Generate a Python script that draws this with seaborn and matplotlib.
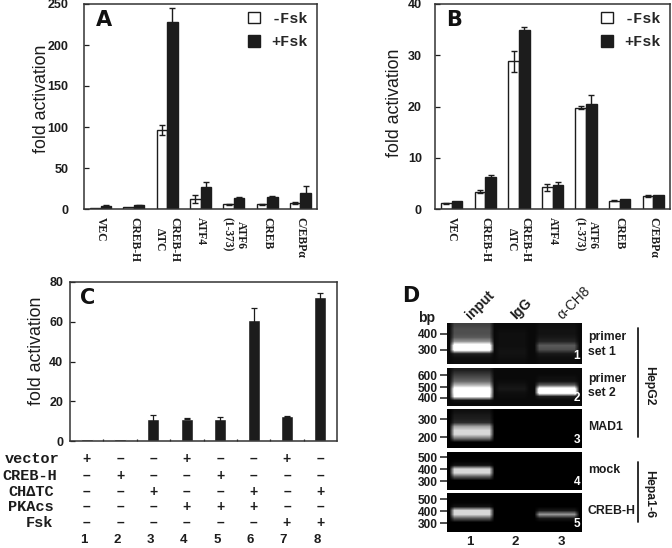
import numpy as np
import pandas as pd
import seaborn as sns
from matplotlib import pyplot as plt
from matplotlib import transforms

W, H = 672, 548
DARK = "#1c1c1c"
SANS = "Liberation Sans"
SERIF = "Liberation Serif"
MONO = "Liberation Mono"

# panels A and B
CATEGORIES = ["VEC", "CREB-H", "CREB-H\nΔTC", "ATF4", "ATF6\n(1-373)", "CREB", "C/EBPα"]
A_MINUS = [1.5, 2.5, 96, 12, 5.5, 5.5, 7.5]
A_PLUS = [4, 4.5, 228, 27, 14, 15, 20]
A_MINUS_ERR = [0, 0, 6, 5, 0.5, 0.5, 1]
A_PLUS_ERR = [0.5, 0.5, 17, 6, 0.5, 0.5, 8]
B_MINUS = [1.1, 3.4, 28.8, 4.2, 19.8, 1.6, 2.6]
B_PLUS = [1.6, 6.2, 35, 4.6, 20.5, 2, 2.8]
B_MINUS_ERR = [0.1, 0.3, 2, 0.6, 0.3, 0.1, 0.2]
B_PLUS_ERR = [0, 0.5, 0.6, 0.6, 1.8, 0, 0]

# panel C
LANES = ["1", "2", "3", "4", "5", "6", "7", "8"]
C_VALUES = [0.8, 1, 11, 11.3, 11, 61, 12.5, 72.5]
C_ERR = [0, 0, 2.2, 0.2, 1.3, 6, 0.3, 1.8]
TABLE_NAMES = ["vector", "CREB-H", "CHΔTC", "PKAcs", "Fsk"]
TABLE_SIGNS = ["+--+--+-", "-+--+---", "--+--+-+", "---+++--", "------++"]

# panel D, band intensity per row for lanes input, IgG, α-CH8
GEL_1 = [[.22, .03, .05], [.26, .04, .06], [.26, .05, .06], [.30, .05, .08], [.50, .05, .12],
         [1.0, .05, .30], [1.0, .06, .26], [.10, .06, .08], [.05, .05, .05], [.04, .04, .04]]
GEL_2 = [[.10, .03, .03], [.18, .03, .03], [.26, .03, .05], [.35, .04, .06], [.60, .06, .30],
         [.95, .08, 1.0], [.95, .05, 1.0], [.85, .04, .10], [.06, .03, .03], [.03, .03, .03]]
GEL_3 = [[.05, 0, 0], [.08, 0, 0], [.10, 0, 0], [.15, 0, 0], [.55, 0, 0],
         [.72, 0, 0], [.72, 0, 0], [.40, 0, 0], [0, 0, 0], [0, 0, 0]]
GEL_4 = [[0, 0, 0], [0, 0, 0], [.01, 0, 0], [.06, 0, 0], [.72, 0, 0],
         [.72, 0, 0], [.30, 0, 0], [0, 0, 0], [0, 0, 0], [0, 0, 0]]
GEL_5 = [[0, 0, 0], [0, 0, 0], [.01, 0, 0], [.06, 0, 0], [.72, 0, .08],
         [.72, 0, .50], [.30, 0, .08], [0, 0, 0], [0, 0, 0], [0, 0, 0]]
# which lane each of the 27 image columns belongs to (-1 is empty gel)
LANE_COLUMNS = [-1, 0, 0, 0, 0, 0, 0, 0, 0, -1, 1, 1, 1, 1, 1, 1, -1, -1, 2, 2, 2, 2, 2, 2, 2, 2, -1]

GELS = [
    (GEL_1, 323, 364, [334, 350], ["400", "300"], "1"),
    (GEL_2, 368, 406, [375, 387, 398], ["600", "500", "400"], "2"),
    (GEL_3, 409, 448, [419, 437], ["300", "200"], "3"),
    (GEL_4, 452, 490, [457, 469, 481], ["500", "400", "300"], "4"),
    (GEL_5, 493, 532, [499, 511, 523], ["500", "400", "300"], "5"),
]
GEL_LABELS = [("primer", 337), ("set 1", 352), ("primer", 379), ("set 2", 393),
              ("MAD1", 427), ("mock", 470), ("CREB-H", 511)]


def px_axes(fig, left, top, right, bottom):
    return fig.add_axes([left / W, 1 - bottom / H, (right - left) / W, (bottom - top) / H])


def style_axes(ax, ymax, yticks, pad, label_x, label_y):
    ax.set_ylim(0, ymax)
    ax.set_yticks(yticks)
    ax.tick_params(axis="y", direction="in", length=3.5, width=0.9, pad=pad, color=DARK)
    for label in ax.get_yticklabels():
        label.set_fontweight("bold")
        label.set_fontsize(9)
        label.set_color(DARK)
    for spine in ax.spines.values():
        spine.set_visible(True)
        spine.set_linewidth(1.1)
        spine.set_color("#333333")
    ax.set_xlabel("")
    ax.set_ylabel("fold activation", fontsize=12.8, color=DARK)
    ax.yaxis.set_label_coords(label_x, label_y)


def grouped_panel(fig, box, minus, plus, minus_err, plus_err, ymax, yticks, pad, label_x, label_y):
    ax = px_axes(fig, *box)
    df = pd.DataFrame({
        "name": CATEGORIES * 2,
        "value": list(minus) + list(plus),
        "group": ["-Fsk"] * len(minus) + ["+Fsk"] * len(plus),
    })
    sns.barplot(data=df, x="name", y="value", hue="group", ax=ax, width=0.63, gap=0, errorbar=None,
                palette={"-Fsk": "white", "+Fsk": DARK}, saturation=1, edgecolor=DARK, linewidth=1.0)
    for container, err in zip(ax.containers, [minus_err, plus_err]):
        xs = np.array([p.get_x() + p.get_width() / 2 for p in container])
        ys = np.array([p.get_height() for p in container])
        err = np.array(err)
        show = err > 0
        ax.errorbar(xs[show], ys[show], yerr=err[show], fmt="none", ecolor=DARK, elinewidth=1.0,
                    capsize=2.2, capthick=1.0)
    ax.set_xlim(-0.5, 6.5)
    style_axes(ax, ymax, yticks, pad, label_x, label_y)
    ax.tick_params(axis="x", length=0, pad=6)
    ax.set_xticks(range(len(CATEGORIES)))
    ax.set_xticklabels(CATEGORIES, rotation=270, ha="center", va="top", fontsize=8.4,
                       family=SERIF, fontweight="bold", multialignment="center", color=DARK)
    handles, labels = ax.get_legend_handles_labels()
    ax.legend(handles, labels, loc="upper right", frameon=False, bbox_to_anchor=(0.975, 0.975),
              prop={"family": MONO, "size": 11, "weight": "bold"}, handlelength=0.8, handleheight=0.75,
              handletextpad=0.75, labelspacing=0.6, borderpad=0.2, borderaxespad=0)
    return ax


sns.set_theme(style="ticks")
plt.rcParams["font.family"] = [SANS, "DejaVu Sans"]

fig = plt.figure(figsize=(W / 100, H / 100), dpi=100, facecolor="white")

ax_a = grouped_panel(fig, (84, 4, 317, 209), A_MINUS, A_PLUS, A_MINUS_ERR, A_PLUS_ERR,
                     250, [0, 50, 100, 150, 200, 250], 11, -0.148, 0.537)
ax_b = grouped_panel(fig, (435, 4, 670, 209), B_MINUS, B_PLUS, B_MINUS_ERR, B_PLUS_ERR,
                     40, [0, 10, 20, 30, 40], 9.5, -0.136, 0.517)

ax_c = px_axes(fig, 70, 282, 337, 441)
sns.barplot(x=LANES, y=C_VALUES, ax=ax_c, color=DARK, saturation=1, width=0.36, errorbar=None)
bars = ax_c.containers[0]
bar_x = np.array([p.get_x() + p.get_width() / 2 for p in bars])
c_err = np.array(C_ERR)
ax_c.errorbar(bar_x[c_err > 0], np.array(C_VALUES)[c_err > 0], yerr=c_err[c_err > 0], fmt="none",
              ecolor=DARK, elinewidth=0.9, capsize=2.2, capthick=0.9)
ax_c.set_xlim(-0.5, 7.5)
style_axes(ax_c, 80, [0, 20, 40, 60, 80], 5, -0.094, 0.566)
ax_c.set_xticks(np.arange(0.5, 7.5))
ax_c.set_xticklabels([])
ax_c.tick_params(axis="x", direction="in", length=1.5, width=0.9, color=DARK)

# overlay in image pixels for the free text
over = fig.add_axes([0, 0, 1, 1], zorder=5)
over.set_xlim(0, W)
over.set_ylim(H, 0)
over.axis("off")

for letter, x, y in [("A", 104, 20), ("B", 454, 20), ("C", 88, 298), ("D", 411, 296)]:
    over.text(x, y, letter, family="DejaVu Sans", fontweight="bold", fontsize=15,
              ha="center", va="center", color="#111111")

# treatment table under panel C
table_tf = transforms.blended_transform_factory(ax_c.transData, over.transData)
for name, signs, y, right in zip(TABLE_NAMES, TABLE_SIGNS, [459, 476, 492, 507, 523], [60, 57, 54, 54, 53]):
    over.text(right, y, name, family=MONO, fontsize=11, fontweight="bold", ha="right", va="center", color=DARK)
    for i, sign in enumerate(signs):
        over.text(i, y, "+" if sign == "+" else "–", transform=table_tf, fontsize=10,
                  fontweight="bold", ha="center", va="center", color=DARK)
for i, lane in enumerate(LANES):
    over.text(i - 0.1, 540, lane, transform=table_tf, fontsize=9.5, fontweight="bold",
              ha="center", va="center", color=DARK)

# panel D gels
columns = np.array(LANE_COLUMNS)
for gel, top, bottom, ticks, tick_labels, number in GELS:
    ax = px_axes(fig, 447, top, 582, bottom)
    gel = np.array(gel)
    img = np.where(columns >= 0, gel[:, np.clip(columns, 0, 2)], np.minimum(gel[:, 1:2], 0.03))
    ax.imshow(img, cmap="gray", vmin=0, vmax=0.85, aspect="auto", interpolation="bilinear",
              extent=(447, 582, bottom, top))
    ax.set_xticks([])
    ax.set_yticks(ticks)
    ax.set_yticklabels(tick_labels, fontsize=8.6, fontweight="bold", color=DARK)
    ax.tick_params(axis="y", direction="out", length=5, width=1.1, pad=1.5, color=DARK)
    for spine in ax.spines.values():
        spine.set_visible(False)
    over.text(577, bottom - 8, number, fontsize=8.5, fontweight="bold", color="white",
              ha="center", va="center")

for text, x, y in [("input", 480, 305), ("IgG", 521, 309), ("α-CH8", 574, 303)]:
    over.text(x, y, text, fontsize=10, fontweight="bold" if text != "α-CH8" else "normal", rotation=45,
              ha="center", va="center", color=DARK)
over.text(427, 318, "bp", fontsize=10, fontweight="bold", ha="center", va="center", color=DARK)
for lane, x in zip(["1", "2", "3"], [470, 515, 561]):
    over.text(x, 542, lane, fontsize=9.5, fontweight="bold", ha="center", va="center", color=DARK)
for text, y in GEL_LABELS:
    over.text(588, y, text, fontsize=8.8, fontweight="bold", ha="left", va="center", color=DARK)

over.plot([638, 638], [328, 437], color=DARK, lw=1.3)
over.plot([638, 638], [462, 522], color=DARK, lw=1.3)
over.text(649, 386, "HepG2", fontsize=8.8, fontweight="bold", rotation=270, ha="center", va="center", color=DARK)
over.text(649, 494, "Hepa1-6", fontsize=8.8, fontweight="bold", rotation=270, ha="center", va="center", color=DARK)

fig.savefig("out.png", dpi=100)
plt.close(fig)
